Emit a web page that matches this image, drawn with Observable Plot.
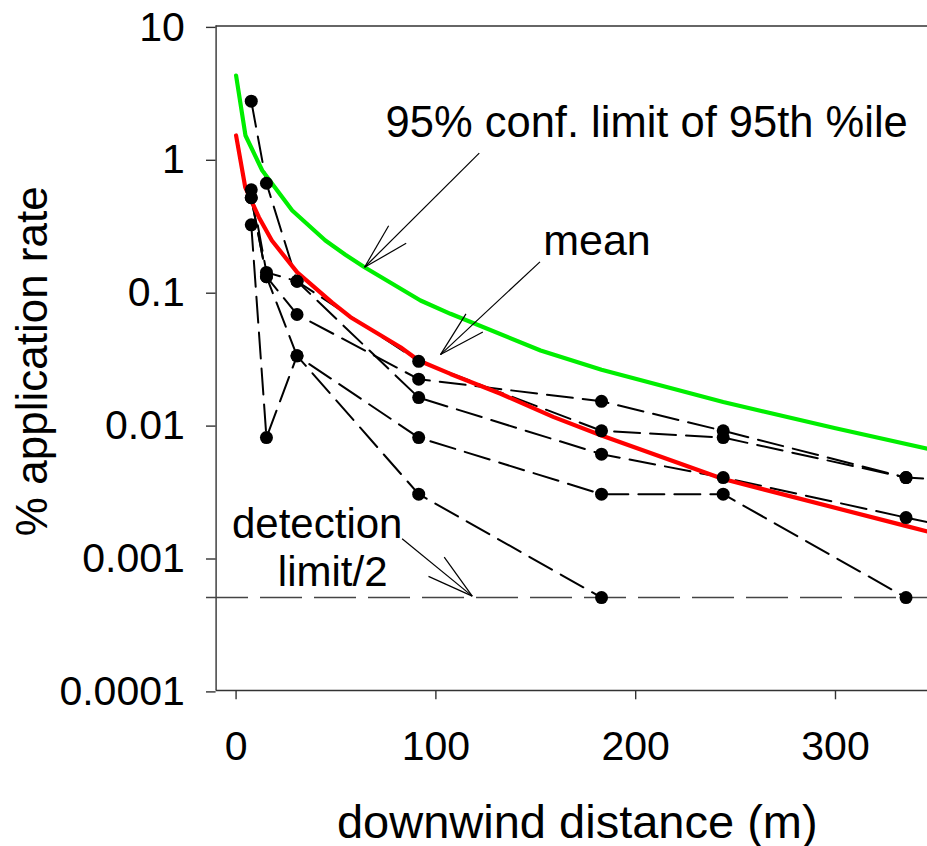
<!DOCTYPE html>
<html><head><meta charset="utf-8">
<script src="https://cdn.jsdelivr.net/npm/d3@7"></script>
<script src="https://cdn.jsdelivr.net/npm/@observablehq/plot@0.6"></script>
<style>
html,body{margin:0;padding:0;background:#fff;overflow:hidden;}
#chart svg{display:block;}
</style></head><body><div id="chart"></div>
<script>
// ---- data ----
const distances = [7.6, 15.2, 30.5, 91.4, 182.9, 243.8, 335.3, 350];
const seriesA = [2.72, 0.656, 0.12, 0.030, 0.0090, 0.0080, 0.0040, null];
const seriesB = [0.585, 0.14, 0.12, 0.016, 0.0060, 0.0040, 0.0020, 0.0018];
const seriesC = [0.51, 0.13, 0.0675, 0.022, 0.015, 0.0090, 0.0040, 0.0039];
const seriesD = [0.51, 0.13, 0.033, 0.008, 0.0030, 0.0030, 0.0005, null];
const seriesE = [0.319, 0.008, 0.033, 0.003, 0.0005, null, null, null];

const meanDist  = [0, 4.6, 11.4, 17.9, 30.6, 48.1, 57.3, 82.3, 91.4, 107.3, 132.4, 159, 182.9, 243.8, 334.6, 350];
const meanValue = [1.5, 0.61, 0.364, 0.243, 0.14, 0.083, 0.0644, 0.0383, 0.0304, 0.0241, 0.0171, 0.0114, 0.0083, 0.0039, 0.00174, 0.00152];

const ciDist  = [0, 4.7, 13.1, 28.1, 44.7, 54.7, 64.3, 92.3, 107.3, 152.4, 182.9, 243.8, 300, 350];
const ciValue = [4.24, 1.5, 0.818, 0.409, 0.243, 0.19, 0.153, 0.086, 0.0683, 0.0362, 0.0259, 0.0148, 0.0094, 0.0064];

const detectionLimitHalf = 0.0005;

const yTicks = [0.0001, 0.001, 0.01, 0.1, 1, 10];
const xTicks = [0, 100, 200, 300];

const labelTexts = ["95% conf. limit of 95th %ile", "mean", "detection", "limit/2"];
const labelX = [74.8, 153.7, -2.05, 20.9];
const labelY = [1.474, 0.189, 0.001393, 0.000616];
const labelSize = [43.5, 43, 42, 42];

const arrowX1 = [121.7, 152.1, 83.1];
const arrowY1 = [1.106, 0.168, 0.001385];
const arrowX2 = [64.3, 102.3, 118.2];
const arrowY2 = [0.153, 0.0337, 0.000513];

// ---- build tables ----
const seriesList = [["A", seriesA], ["B", seriesB], ["C", seriesC], ["D", seriesD], ["E", seriesE]];
const obs = [];
for (const [name, vals] of seriesList) {
  vals.forEach((v, i) => { if (v != null) obs.push({series: name, distance: distances[i], value: v}); });
}
const meanData = meanDist.map((d, i) => ({distance: d, value: meanValue[i]}));
const ciData = ciDist.map((d, i) => ({distance: d, value: ciValue[i]}));
const labels = labelTexts.map((t, i) => ({text: t, x: labelX[i], y: labelY[i], size: labelSize[i]}));
const arrows = arrowX1.map((x, i) => ({x1: x, y1: arrowY1[i], x2: arrowX2[i], y2: arrowY2[i]}));

const W = 927, H = 846, mL = 215.6, mR = 0, mT = 25.5, mB = 156;
const xDomain = [-10, 346.05], yDomain = [1e-4, 10];

// arrowheads: open V of fixed pixel length, converted back to data space
const xs = d3.scaleLinear(xDomain, [mL, W - mR]);
const ys = d3.scaleLog(yDomain, [H - mB, mT]);
const heads = [];
for (const a of arrows) {
  const tx = xs(a.x2), ty = ys(a.y2), sx = xs(a.x1), sy = ys(a.y1);
  const ang = Math.atan2(sy - ty, sx - tx);
  for (const s of [-1, 1]) {
    const t = ang + s * 15 * Math.PI / 180;
    heads.push({x1: a.x2, y1: a.y2, x2: xs.invert(tx + 48 * Math.cos(t)), y2: ys.invert(ty + 48 * Math.sin(t))});
  }
}

const font = "'Liberation Sans', Arial, Helvetica, sans-serif";
const axisColor = "#333";

const chart = Plot.plot({
  width: W, height: H,
  marginLeft: mL, marginRight: mR, marginTop: mT, marginBottom: mB,
  style: {fontFamily: font, fontSize: "41px", background: "#fff", color: "#000", overflow: "hidden"},
  x: {domain: xDomain},
  y: {type: "log", domain: yDomain},
  marks: [
    Plot.ruleY([1e-4, 10], {stroke: axisColor, strokeWidth: 1.4}),
    Plot.ruleX([xDomain[0]], {stroke: axisColor, strokeWidth: 1.4}),
    Plot.axisY({ticks: yTicks, tickFormat: d => String(d), tickSize: 9.6, tickPadding: 21.7, fontSize: 41, label: null, stroke: axisColor, strokeWidth: 1.4, dy: 1.4}),
    Plot.axisX({ticks: xTicks, tickFormat: d => String(d), tickSize: 9.3, tickPadding: 30.7, fontSize: 41, label: null, stroke: axisColor, strokeWidth: 1.4}),
    Plot.ruleY([detectionLimitHalf], {x1: -14.8, x2: 350, stroke: "#444", strokeWidth: 1.5, strokeDasharray: "42,12"}),
    Plot.line(obs, {x: "distance", y: "value", z: "series", stroke: "#000", strokeWidth: 2, strokeDasharray: "26,10", clip: true}),
    Plot.line(ciData, {x: "distance", y: "value", stroke: "#00ee00", strokeWidth: 4.2, clip: true}),
    Plot.line(meanData, {x: "distance", y: "value", stroke: "#ff0000", strokeWidth: 4.2, clip: true}),
    Plot.dot(obs, {x: "distance", y: "value", r: 6.5, fill: "#000", stroke: "none", clip: true}),
    Plot.link(arrows, {x1: "x1", y1: "y1", x2: "x2", y2: "y2", stroke: "#000", strokeWidth: 1.2}),
    Plot.link(heads, {x1: "x1", y1: "y1", x2: "x2", y2: "y2", stroke: "#000", strokeWidth: 1.2}),
    ...labels.map(l => Plot.text([l], {x: "x", y: "y", text: "text", textAnchor: "start", lineAnchor: "bottom", fontSize: l.size, fill: "#000"})),
    Plot.text(["downwind distance (m)"], {text: d => d, frameAnchor: "bottom", dx: 5.5, dy: 147, lineAnchor: "bottom", textAnchor: "middle", fontSize: 47, fill: "#000"}),
    Plot.text(["% application rate"], {text: d => d, frameAnchor: "left", rotate: -90, dx: -169, dy: 3, lineAnchor: "bottom", textAnchor: "middle", fontSize: 44, fill: "#000"})
  ]
});
document.getElementById("chart").appendChild(chart);
</script>
</body></html>
